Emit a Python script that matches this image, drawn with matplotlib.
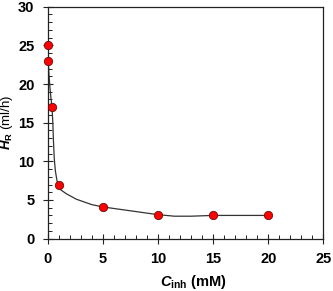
import numpy             as np
import matplotlib
import matplotlib.pyplot as plt
from matplotlib.ticker import MultipleLocator

matplotlib.use('Agg')

# measured points
c_inh = [0.0, 0.05, 0.4, 1.0, 5.0, 10.0, 15.0, 20.0]
h_r   = [25.0, 23.0, 17.0, 7.0, 4.1, 3.1, 3.1, 3.1]

# fitted curve
curve_x = [0.0, 0.05, 0.12, 0.2, 0.3, 0.4, 0.47, 0.53, 0.6, 0.7, 0.8, 0.92, 1.2, 1.7, 2.6, 4.0, 5.0, 7.5, 10.0, 11.5, 13.0, 15.0, 20.0]
curve_y = [25.0, 23.0, 21.3, 19.7, 18.2, 17.0, 15.0, 12.6, 10.4, 8.8, 7.9, 7.0, 6.3, 5.8, 5.1, 4.4, 4.1, 3.6, 3.1, 2.9, 2.9, 3.0, 3.0]

x_ticks = [0, 5, 10, 15, 20, 25]
y_ticks = [0, 5, 10, 15, 20, 25, 30]


def plot_results():
    plt.rcParams['font.family'] = ['Liberation Sans', 'DejaVu Sans']
    plt.rcParams['mathtext.fontset'] = 'custom'
    plt.rcParams['mathtext.rm'] = 'Liberation Sans:bold'
    plt.rcParams['mathtext.bf'] = 'Liberation Sans:bold'
    plt.rcParams['mathtext.it'] = 'Liberation Sans:italic:bold'

    fig = plt.figure(figsize = (3.33, 2.91), dpi = 100)
    ax  = fig.add_axes([0.143, 0.180, 0.828, 0.797])

    ax.plot(curve_x, curve_y, color = '#333333', lw = 0.9, zorder = 2)
    ax.plot(c_inh, h_r, 'o', ms = 6, mfc = '#ff0000', mec = '#661111', mew = 0.6, zorder = 3, clip_on = False)

    ax.set_xlim(0, 25)
    ax.set_ylim(0, 30)
    ax.set_xticks(x_ticks)
    ax.set_yticks(y_ticks)
    ax.xaxis.set_minor_locator(MultipleLocator(1))
    ax.yaxis.set_minor_locator(MultipleLocator(1))

    ax.tick_params(which = 'major', direction = 'inout', length = 7, width = 0.8, color = '#222222',
                   labelsize = 10.5, pad = 6)
    ax.tick_params(which = 'minor', direction = 'in', length = 3, width = 0.7, color = '#222222')
    ax.tick_params(top = False, right = False, which = 'both')
    for lab in ax.get_xticklabels() + ax.get_yticklabels():
        lab.set_fontweight('bold')

    for sp in ax.spines.values():
        sp.set_linewidth(0.9)
        sp.set_color('#222222')

    ax.set_xlabel(r'$C_{\mathrm{inh}}$ (mM)', fontsize = 10.5, fontweight = 'bold')
    ax.xaxis.set_label_coords(0.53, -0.15)
    ax.set_ylabel(r'$H_{\mathrm{R}}$ (ml/h)', fontsize = 9.5)
    ax.yaxis.set_label_coords(-0.118, 0.5)

    plt.savefig('out.png', format = 'png', dpi = 100)
    plt.close()


def main():
    plot_results()


if __name__ == "__main__":
    main()
